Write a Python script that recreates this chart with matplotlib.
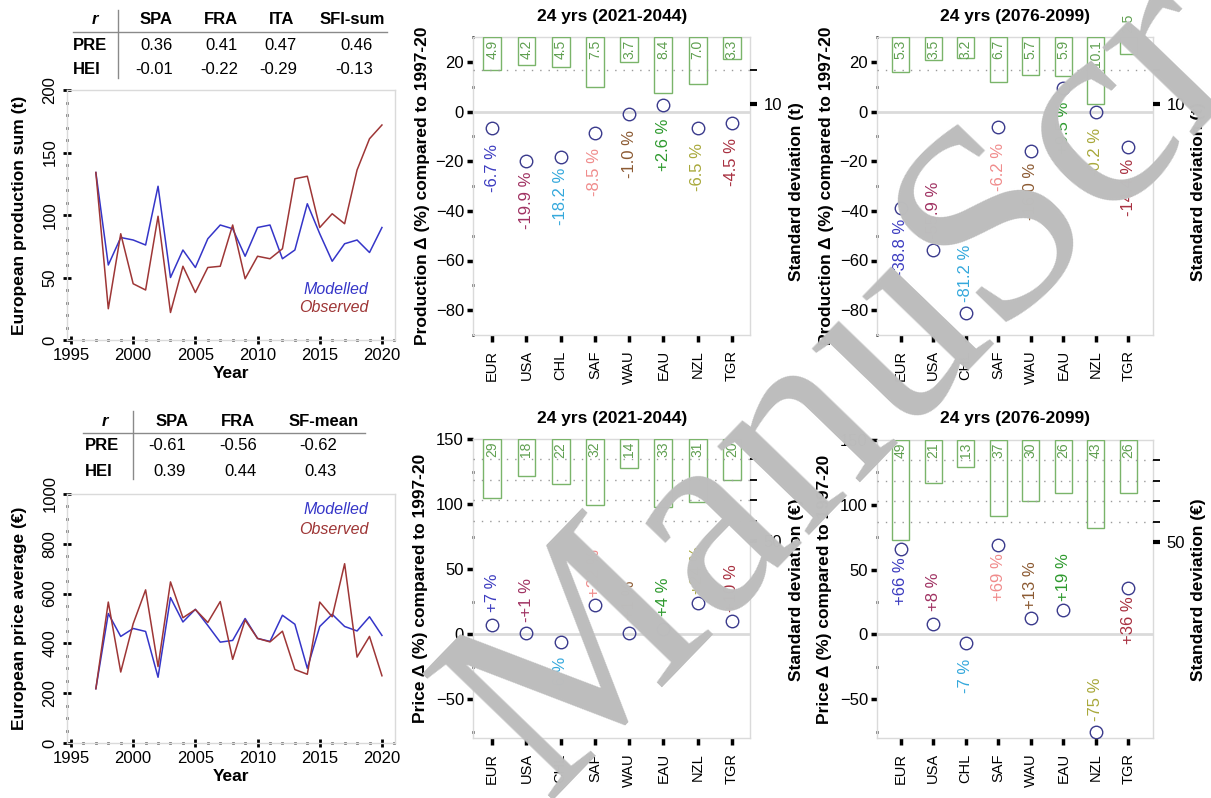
import matplotlib
matplotlib.use("Agg")
import matplotlib.pyplot as plt
from matplotlib.ticker import MultipleLocator

plt.rcParams["font.family"] = ["Liberation Sans", "DejaVu Sans"]

W, H = 1211, 798

# ---------------------------------------------------------------
# Data
# ---------------------------------------------------------------

years = list(range(1997, 2021))

prod_modelled = [134, 60, 82, 80, 76, 123, 50, 72, 58, 81, 92, 89,
                 67, 90, 92, 65, 72, 109, 85, 63, 77, 80, 70, 90]
prod_observed = [134, 25, 85, 45, 40, 99, 22, 59, 38, 58, 59, 92,
                 49, 67, 65, 73, 129, 131, 90, 101, 93, 136, 161, 172]

price_modelled = [218, 520, 428, 460, 448, 264, 584, 486, 537, 472, 405, 412,
                  500, 420, 408, 513, 477, 300, 468, 517, 468, 450, 507, 432]
price_observed = [218, 566, 285, 479, 615, 307, 647, 503, 536, 484, 568, 336,
                  494, 420, 406, 449, 295, 276, 566, 507, 720, 345, 428, 270]

prod_cols = ["SPA", "FRA", "ITA", "SFI-sum"]
prod_r_pre = ["0.36", "0.41", "0.47", "0.46"]
prod_r_hei = ["-0.01", "-0.22", "-0.29", "-0.13"]

price_cols = ["SPA", "FRA", "SF-mean"]
price_r_pre = ["-0.61", "-0.56", "-0.62"]
price_r_hei = ["0.39", "0.44", "0.43"]

regions = ["EUR", "USA", "CHL", "SAF", "WAU", "EAU", "NZL", "TGR"]

prod_delta_near = [-6.7, -19.9, -18.2, -8.5, -1.0, 2.6, -6.5, -4.5]
prod_sd_near = [4.9, 4.2, 4.5, 7.5, 3.7, 8.4, 7.0, 3.3]
prod_delta_far = [-38.8, -55.9, -81.2, -6.2, -16.0, 9.5, -0.2, -14.4]
prod_sd_far = [5.3, 3.5, 3.2, 6.7, 5.7, 5.9, 10.1, 2.5]

price_delta_near = [7, 1, -6, 22, 1, 4, 24, 10]
price_sd_near = [29, 18, 22, 32, 14, 33, 31, 20]
price_delta_far = [66, 8, -7, 69, 13, 19, -75, 36]
price_sd_far = [49, 21, 13, 37, 30, 26, 43, 26]

price_labels_near = ["+7 %", "-+1 %", "-6 %", "+22 %", "+1 %", "+4 %", "+24 %", "+10 %"]
price_labels_far = ["+66 %", "+8 %", "-7 %", "+69 %", "+13 %", "+19 %", "-75 %", "+36 %"]

# which side of the circle the % label sits (1 above, -1 below)
prod_side_near = [-1, -1, -1, -1, -1, -1, -1, -1]
prod_side_far = [-1, 1, 1, -1, -1, -1, -1, -1]
price_side_near = [1, 1, -1, 1, 1, 1, 1, 1]
price_side_far = [-1, 1, -1, -1, 1, 1, 1, -1]

BLUE = "#3535c8"
RED = "#9e3636"
GREEN_EDGE = "#7ab46a"
GREEN_TEXT = "#5f9f50"
NAVY = "#3a3a8c"
FRAME = "#dadada"
region_colors = ["#3c3cc0", "#a03262", "#34a8dc", "#f08c8c",
                 "#8c5a32", "#2e9a2e", "#a8a83a", "#a83040"]

fig = plt.figure(figsize=(W / 100, H / 100), dpi=100)


def px_axes(left, top, right, bottom):
    return fig.add_axes([left / W, 1 - bottom / H, (right - left) / W, (bottom - top) / H])


def ftext(x, y, s, **kw):
    kw.setdefault("ha", "center")
    kw.setdefault("va", "center")
    return fig.text(x / W, 1 - y / H, s, **kw)


def fline(xs, ys, **kw):
    fig.add_artist(plt.Line2D([x / W for x in xs], [1 - y / H for y in ys], **kw))


def frame(ax):
    for sp in ax.spines.values():
        sp.set_color(FRAME)
        sp.set_linewidth(1)


####################################################
# Time series panels
####################################################

def time_panel(ax, modelled, observed, ymax, ymajor, yminor, leg_y):
    ax.plot(years, modelled, color=BLUE, lw=1.1)
    ax.plot(years, observed, color=RED, lw=1.1)
    ax.set_xlim(1994.68, 2021.05)
    ax.set_ylim(0, ymax)
    ax.xaxis.set_major_locator(MultipleLocator(5))
    ax.xaxis.set_minor_locator(MultipleLocator(1))
    ax.yaxis.set_major_locator(MultipleLocator(ymajor))
    ax.yaxis.set_minor_locator(MultipleLocator(yminor))
    ax.tick_params(which="major", direction="inout", length=6, width=2,
                   labelsize=12, pad=3)
    ax.tick_params(which="minor", direction="inout", length=1.5, width=2)
    ax.tick_params(axis="y", labelrotation=90, pad=4)
    for lab in ax.get_yticklabels():
        lab.set_va("center")
    frame(ax)
    ax.set_xlabel("Year", fontsize=12.5, fontweight="bold", labelpad=2)
    ax.text(0.918, leg_y[0], "Modelled", color=BLUE, style="italic",
            fontsize=11.5, ha="right", va="center", transform=ax.transAxes)
    ax.text(0.918, leg_y[1], "Observed", color=RED, style="italic",
            fontsize=11.5, ha="right", va="center", transform=ax.transAxes)


ax_prod = px_axes(67, 90, 395, 340)
time_panel(ax_prod, prod_modelled, prod_observed, 200, 50, 10, (0.204, 0.128))
ftext(20, 215, "European production sum (t)", rotation=90,
      fontsize=12.5, fontweight="bold")

ax_price = px_axes(67, 494, 395, 743)
time_panel(ax_price, price_modelled, price_observed, 1000, 200, 50, (0.936, 0.859))
ftext(20, 618, "European price average (€)", rotation=90,
      fontsize=12.5, fontweight="bold")

####################################################
# Correlation tables
####################################################

def table(y0, x_r, x_row, col_x, val_right, cols, pre, hei, hline_x, vline_x):
    ftext(x_r, y0, "r", fontsize=12, fontweight="bold", style="italic")
    for cx, c in zip(col_x, cols):
        ftext(cx, y0, c, fontsize=12, fontweight="bold")
    ftext(x_row, y0 + 25, "PRE", fontsize=12, fontweight="bold", ha="left")
    ftext(x_row, y0 + 50, "HEI", fontsize=12, fontweight="bold", ha="left")
    for rx, a, b in zip(val_right, pre, hei):
        ftext(rx, y0 + 25, a, fontsize=12, ha="right")
        ftext(rx, y0 + 50, b, fontsize=12, ha="right")
    fline(hline_x, [y0 + 12, y0 + 12], color="#8a8a8a", lw=1)
    fline([vline_x, vline_x], [y0 - 10, y0 + 58], color="#8a8a8a", lw=1)


table(20, 95, 73, [156, 221, 282, 352], [173, 238, 297, 373],
      prod_cols, prod_r_pre, prod_r_hei, [73, 387], 118)
table(421, 105, 85, [172, 238, 324], [186, 257, 337],
      price_cols, price_r_pre, price_r_hei, [83, 365], 133)

####################################################
# Change panels
####################################################

def delta_panel(ax, delta, labels, sides, sd, ylim, ymajor, yminor,
                sd_bottom, sd_major, sd_minor, label_off, xlim):
    x = list(range(1, len(regions) + 1))

    ax.axhline(0, color=FRAME, lw=2, zorder=0)
    ax.plot(x, delta, "o", mfc="none", mec=NAVY, ms=9, mew=1, zorder=3)
    for xi, v, s, side, c in zip(x, delta, labels, sides, region_colors):
        ax.text(xi, v + side * label_off, s, rotation=90, ha="center",
                va="center", color=c, fontsize=12)

    ax.set_xlim(*xlim)
    ax.set_ylim(*ylim)
    ax.set_xticks(x)
    ax.set_xticklabels(regions, rotation=90, fontsize=10.5)
    ax.yaxis.set_major_locator(MultipleLocator(ymajor))
    ax.yaxis.set_minor_locator(MultipleLocator(ymajor, offset=yminor))
    ax.tick_params(axis="x", direction="out", length=5, width=2.5, pad=6)
    ax.tick_params(axis="y", which="major", direction="out", length=4.5,
                   width=2.5, labelsize=12, pad=2)
    ax.tick_params(axis="y", which="minor", direction="inout", length=1.5, width=2)
    frame(ax)

    ax2 = ax.twinx()
    ax2.set_ylim(sd_bottom, 0)
    for v in sd_minor:
        ax2.axhline(v, color="#9a9a9a", lw=1, ls=(0, (1, 5)))
    ax2.bar(x, sd, width=0.52, bottom=0, fill=False,
            edgecolor=GREEN_EDGE, lw=1)
    for xi, v in zip(x, sd):
        txt = f"{v:g}" if v >= 12 else f"{v:.1f}"
        if v / sd_bottom >= 0.06:
            ax2.annotate(txt, (xi, 0), xytext=(0, -2), textcoords="offset points",
                         rotation=90, rotation_mode="anchor", ha="right",
                         va="center", color=GREEN_TEXT, fontsize=10)
        else:
            ax2.annotate(txt, (xi, 0), xytext=(0, 3), textcoords="offset points",
                         rotation=90, rotation_mode="anchor", ha="left",
                         va="center", color=GREEN_TEXT, fontsize=10,
                         annotation_clip=False)
    ax2.set_yticks(sd_major)
    ax2.set_yticks(sd_minor, minor=True)
    ax2.tick_params(which="major", direction="out", length=5, width=3,
                    labelsize=12, pad=5)
    ax2.tick_params(which="minor", direction="out", length=5, width=1.3)
    for sp in ax2.spines.values():
        sp.set_visible(False)
    return ax2


PROD_YLIM = (-90, 30)
PRICE_YLIM = (-80, 150)
XLIM_MID = (0.44, 8.53)
XLIM_RIGHT = (0.27, 8.76)

prod_labels_near = [f"{v:+.1f} %" for v in prod_delta_near]
prod_labels_far = [f"{v:+.1f} %" for v in prod_delta_far]

ax_p1 = px_axes(473, 37, 750, 335)
delta_panel(ax_p1, prod_delta_near, prod_labels_near, prod_side_near,
            prod_sd_near, PROD_YLIM, 20, 10, 44.7, [10], [5], 16, XLIM_MID)

ax_p2 = px_axes(877, 37, 1153, 335)
delta_panel(ax_p2, prod_delta_far, prod_labels_far, prod_side_far,
            prod_sd_far, PROD_YLIM, 20, 10, 44.7, [10], [5], 16, XLIM_RIGHT)

ax_q1 = px_axes(473, 439, 750, 738)
delta_panel(ax_q1, price_delta_near, price_labels_near, price_side_near,
            price_sd_near, PRICE_YLIM, 50, 25, 146, [50], [10, 20, 30, 40], 25, XLIM_MID)

ax_q2 = px_axes(877, 440, 1153, 738)
delta_panel(ax_q2, price_delta_far, price_labels_far, price_side_far,
            price_sd_far, PRICE_YLIM, 50, 25, 146, [50], [10, 20, 30, 40], 25, XLIM_RIGHT)

# titles and axis labels
for cx, cy, t in [(612, 17, "24 yrs (2021-2044)"), (1015, 17, "24 yrs (2076-2099)"),
                  (612, 419, "24 yrs (2021-2044)"), (1015, 419, "24 yrs (2076-2099)")]:
    ftext(cx, cy, t, fontsize=12.5, fontweight="bold")

for cx, cy, t in [(423, 186, "Production Δ (%) compared to 1997-20"),
                  (827, 186, "Production Δ (%) compared to 1997-20"),
                  (420, 588, "Price Δ (%) compared to 1997-20"),
                  (825, 589, "Price Δ (%) compared to 1997-20"),
                  (797, 192, "Standard deviation (t)"),
                  (1198, 192, "Standard deviation (t)"),
                  (797, 590, "Standard deviation (€)"),
                  (1198, 590, "Standard deviation (€)")]:
    ftext(cx, cy, t, rotation=90, fontsize=12.5, fontweight="bold")

# manuscript watermark
ftext(545, 800, "ManuScript", rotation=46, rotation_mode="anchor",
      ha="left", va="baseline", fontsize=200, family="Liberation Serif",
      color="#bdbdbd", zorder=10)

fig.savefig("out.png", dpi=100)
